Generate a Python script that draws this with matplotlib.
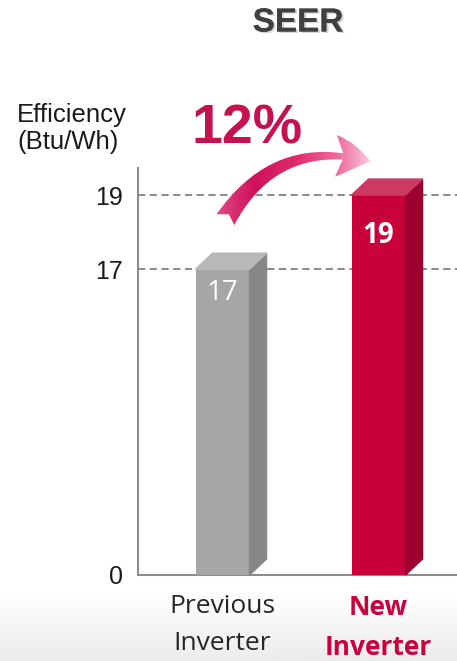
import matplotlib
matplotlib.use('Agg')
import matplotlib.pyplot as plt
import matplotlib.patheffects as pe
from matplotlib.patches import Polygon, FancyArrowPatch
from matplotlib.colors import LinearSegmentedColormap
from matplotlib.transforms import IdentityTransform
import numpy as np

# data
categories = ['Previous\nInverter', 'New\nInverter']
seer_values = [17, 19]
value_labels = ['17', '19']
yticks = [0, 17, 19]
increase_label = '12%'

W, H = 457, 661
fig = plt.figure(figsize=(W / 100, H / 100), dpi=100)

# light gradient at the bottom of the slide
bg = fig.add_axes([0, 0, 1, 66 / H])
bg.imshow(np.linspace(1, 0, 50).reshape(-1, 1), aspect='auto',
          cmap=LinearSegmentedColormap.from_list('bg', ['#ececec', '#ffffff']),
          extent=[0, 1, 0, 1])
bg.axis('off')

# broken-looking axis: 0..17 compressed, 17..19 stretched
def fwd(y):
    y = np.asarray(y, dtype=float)
    return np.where(y <= 17, y, 17 + (y - 17) * 2.06)

def inv(t):
    t = np.asarray(t, dtype=float)
    return np.where(t <= 17, t, 17 + (t - 17) / 2.06)

ax = fig.add_axes([138 / W, 86 / H, 319 / W, 407 / H])
ax.patch.set_alpha(0)
ax.set_yscale('function', functions=(fwd, inv))
ax.set_ylim(0, 19.73)
ax.set_xlim(-0.542, 1.503)

front = ['#a6a6a6', '#c8003c']
side = ['#878787', '#9c0030']
top = ['#b8b8b8', '#cc3962']
width = 0.346

for v in seer_values:
    ax.axhline(v, color='#808080', lw=1.3, ls=(0, (4, 2.5)), zorder=1)

x = np.arange(len(categories))
ax.bar(x, seer_values, width=width, color=front, zorder=3)

ax.set_yticks(yticks)
ax.set_yticklabels([str(t) for t in yticks], fontsize=18,
                   family='Liberation Sans', color='#1a1a1a')
ax.tick_params(axis='y', length=0, pad=11)
ax.set_xticks(x)
ax.set_xticklabels(categories, fontsize=19, family='Open Sans', linespacing=1.62)
ax.tick_params(axis='x', length=0, pad=14)
xl = ax.get_xticklabels()
xl[0].set_color('#262626')
xl[1].set_color('#c8003c')
xl[1].set_fontweight('bold')

for s in ['top', 'right']:
    ax.spines[s].set_visible(False)
for s in ['left', 'bottom']:
    ax.spines[s].set_color('#8c8c8c')
    ax.spines[s].set_linewidth(1.5)

# 3d faces of the bars (depth in pixels)
dx, dy = 17, 16
for i, v in enumerate(seer_values):
    xr = x[i] + width / 2
    xlft = x[i] - width / 2
    p0 = ax.transData.transform((xr, 0))
    p1 = ax.transData.transform((xr, v))
    pl = ax.transData.transform((xlft, v))
    d = np.array([dx, dy])
    ax.add_patch(Polygon([p0, p1, p1 + d, p0 + d], closed=True, color=side[i],
                         transform=IdentityTransform(), clip_on=False, zorder=3))
    ax.add_patch(Polygon([pl, p1, p1 + d, pl + d], closed=True, color=top[i],
                         transform=IdentityTransform(), clip_on=False, zorder=3))

label_off = [-24, -40]
for i, v in enumerate(seer_values):
    ax.annotate(value_labels[i], (x[i], v), xytext=(0, label_off[i]),
                textcoords='offset pixels', ha='center', va='center',
                color='white', fontsize=20, family='Open Sans',
                fontweight='bold' if i == 1 else 'normal', zorder=5)

# overlay in pixel coordinates for the decorations
ov = fig.add_axes([0, 0, 1, 1])
ov.set_xlim(0, W)
ov.set_ylim(H, 0)
ov.axis('off')

ov.text(298, 23, 'SEER', ha='center', va='center', fontsize=24,
        fontweight='bold', family='Liberation Sans', color='#404040',
        path_effects=[pe.withSimplePatchShadow(offset=(1.5, -1), shadow_rgbFace='#d4d4d4', alpha=1),
                      pe.Normal()])

ov.text(17, 103, 'Efficiency\n(Btu/Wh)', ha='left', va='top', fontsize=18.5,
        family='Liberation Sans', color='#1a1a1a', linespacing=1.15)

ov.text(247, 129, increase_label, ha='center', va='center', fontsize=40,
        fontweight='bold', family='Liberation Sans', color='#c5114f')

arrow = FancyArrowPatch((224, 222), (373, 162),
                        arrowstyle='fancy,head_length=1.25,head_width=1.5,tail_width=0.75',
                        connectionstyle='arc3,rad=-0.38', mutation_scale=20,
                        facecolor='none', edgecolor='none')
ov.add_patch(arrow)
cmap = LinearSegmentedColormap.from_list(
    'arr', ['#e0508a', '#d0105a', '#e02a6a', '#ee6a9c', '#fde3ee'])
im = ov.imshow(np.linspace(0, 1, 200).reshape(1, -1), cmap=cmap, aspect='auto',
               extent=[212, 380, 235, 125], zorder=4)
im.set_clip_path(arrow)

fig.savefig('out.png', dpi=100)
